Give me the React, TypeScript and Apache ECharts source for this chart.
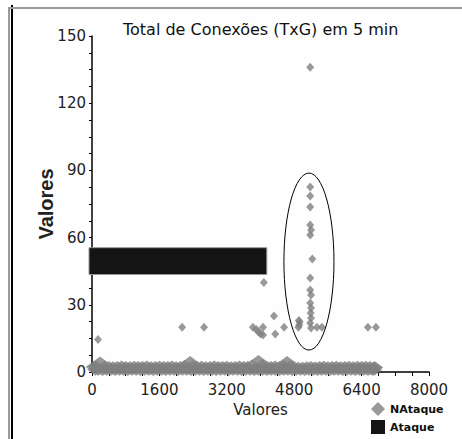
import React, { useEffect, useRef } from "react";
import * as echarts from "echarts";

const xTicks = [0, 1600, 3200, 4800, 6400, 8000];
const yTicks = [0, 30, 60, 90, 120, 150];

// NAtaque: dense band near zero (upper row and lower row of the band)
const nAtaqueBandTop: [number, number][] = [
  [40, 2.2], [100, 2.6], [190, 4.2], [300, 2.3], [400, 2.2], [500, 2.1], [600, 2.2], [700, 2.4],
  [800, 2.2], [900, 2.1], [1000, 2.3], [1100, 2.2], [1200, 2.2], [1300, 2.5], [1400, 2.1],
  [1500, 2.2], [1600, 2.3], [1700, 2.2], [1800, 2.2], [1900, 2.4], [2000, 2.1], [2100, 2.2],
  [2200, 2.7], [2330, 4.5], [2400, 2.7], [2500, 2.2], [2600, 2.3], [2700, 2.1], [2800, 2.2],
  [2900, 2.4], [3000, 2.2], [3100, 2.2], [3200, 2.3], [3300, 2.1], [3400, 2.2], [3500, 2.4],
  [3600, 2.2], [3700, 2.3], [3800, 2.9], [3950, 4.9], [4050, 3.1], [4150, 2.3], [4250, 2.2],
  [4350, 2.4], [4450, 2.2], [4550, 2.8], [4630, 4.5], [4720, 2.6], [4800, 2.1], [4900, 1.9],
  [5000, 1.9], [5100, 2.1], [5200, 2.2], [5300, 2.0], [5400, 2.2], [5500, 2.3], [5600, 2.1],
  [5700, 2.2], [5800, 2.3], [5900, 2.1], [6000, 2.2], [6100, 2.3], [6200, 2.1], [6300, 2.3],
  [6400, 2.2], [6500, 2.3], [6600, 2.2], [6700, 2.1], [6720, 2.0],
];
const nAtaqueBandBottom: [number, number][] = [
  [80, 1.0], [150, 1.0], [250, 0.9], [350, 1.0], [450, 1.0], [550, 0.9], [650, 1.0], [750, 1.0],
  [850, 0.9], [950, 1.0], [1050, 1.0], [1150, 0.9], [1250, 1.0], [1350, 1.0], [1450, 0.9],
  [1550, 1.0], [1650, 1.0], [1750, 0.9], [1850, 1.0], [1950, 1.0], [2050, 0.9], [2150, 1.0],
  [2250, 1.0], [2350, 0.9], [2450, 1.0], [2550, 1.0], [2650, 0.9], [2750, 1.0], [2850, 1.0],
  [2950, 0.9], [3050, 1.0], [3150, 1.0], [3250, 0.9], [3350, 1.0], [3450, 1.0], [3550, 0.9],
  [3650, 1.0], [3750, 1.0], [3850, 0.9], [3950, 1.0], [4050, 1.0], [4150, 0.9], [4250, 1.0],
  [4350, 1.0], [4450, 0.9], [4550, 1.0], [4650, 1.0], [4750, 0.9], [4850, 1.0], [4950, 1.0],
  [5050, 0.9], [5150, 1.0], [5250, 1.0], [5350, 0.9], [5450, 1.0], [5550, 1.0], [5650, 0.9],
  [5750, 1.0], [5850, 1.0], [5950, 0.9], [6050, 1.0], [6150, 1.0], [6250, 0.9], [6350, 1.0],
  [6450, 1.0], [6550, 0.9], [6650, 1.0], [6700, 1.0],
];
// NAtaque: scattered points above the band
const nAtaqueOutliers: [number, number][] = [
  [143, 14.5], [2140, 20], [2660, 20], [3820, 20], [3900, 19], [3950, 18], [4000, 17],
  [4060, 16.5], [4060, 20], [4080, 40], [4320, 25], [4350, 17], [4560, 20], [4900, 20],
  [4920, 21], [4930, 22.3], [4910, 23], [5180, 136], [5180, 82.6], [5180, 78.6], [5180, 73.7],
  [5180, 65.6], [5200, 63.4], [5180, 61.2], [5230, 50.4], [5180, 42], [5180, 36.6],
  [5200, 34.4], [5180, 30.8], [5200, 28.6], [5190, 26.3], [5200, 24.1], [5180, 21.9],
  [5200, 19.6], [5340, 20], [5460, 20], [6550, 20], [6740, 20],
];
// Ataque: block [xStart, xEnd, yLow, yHigh]
const ataqueBlock: [number, number, number, number][] = [[0, 4150, 43.5, 55.5]];
// highlight ellipse [cx, cy, rx, ry] in data units
const highlightEllipse: [number, number, number, number][] = [[5150, 49.3, 594, 39.5]];

const FONT = "DejaVu Sans";
const GRAY = "#808080";

export default function App() {
  const ref = useRef<HTMLDivElement>(null);
  useEffect(() => {
    if (!ref.current) return;
    const chart = echarts.init(ref.current, null, { renderer: "svg" });
    chart.setOption({
      animation: false,
      backgroundColor: "#fefefe",
      title: {
        text: "Total de Conexões (TxG) em 5 min",
        left: 123,
        top: 21,
        padding: 0,
        textStyle: { fontFamily: FONT, fontSize: 16, fontWeight: "normal", color: "#111" },
      },
      legend: {
        orient: "vertical",
        left: 371,
        top: 402,
        padding: 0,
        itemWidth: 14,
        itemHeight: 14,
        itemGap: 4,
        data: [
          { name: "NAtaque", icon: "diamond" },
          { name: "Ataque", icon: "rect" },
        ],
        textStyle: { fontFamily: FONT, fontSize: 11, fontWeight: "bold", color: "#111" },
      },
      grid: { left: 92, top: 36, right: 33, bottom: 67 },
      xAxis: {
        type: "value",
        min: xTicks[0],
        max: xTicks[xTicks.length - 1],
        interval: xTicks[1] - xTicks[0],
        name: "Valores",
        nameLocation: "middle",
        nameGap: 30,
        nameMoveOverlap: false,
        nameTextStyle: { fontFamily: FONT, fontSize: 15, color: "#222" },
        axisLine: { lineStyle: { color: "#000", width: 1.5 } },
        axisTick: { show: true, length: 4, lineStyle: { color: "#000" } },
        minorTick: { show: true, splitNumber: 4, length: 4, lineStyle: { color: "#000" } },
        axisLabel: { fontFamily: FONT, fontSize: 15, color: "#222", margin: 10, formatter: (v: number) => String(v) },
        splitLine: { show: false },
      },
      yAxis: {
        type: "value",
        min: yTicks[0],
        max: yTicks[yTicks.length - 1],
        interval: yTicks[1] - yTicks[0],
        name: "Valores",
        nameLocation: "middle",
        nameGap: 36,
        nameMoveOverlap: false,
        nameTextStyle: { fontFamily: "Liberation Sans", fontSize: 20, fontWeight: "bold", color: "#222" },
        axisLine: { show: true, lineStyle: { color: "#000", width: 1.5 } },
        axisTick: { show: true, length: 3, lineStyle: { color: "#000" } },
        minorTick: { show: true, splitNumber: 4, length: 3, lineStyle: { color: "#000" } },
        axisLabel: { fontFamily: FONT, fontSize: 15, color: "#222", margin: 6, formatter: (v: number) => String(v) },
        splitLine: { show: false },
      },
      graphic: [
        { type: "line", shape: { x1: 9, y1: 7, x2: 9, y2: 439 }, style: { stroke: "#9a9a9a", lineWidth: 2 } },
        { type: "line", shape: { x1: 12, y1: 5, x2: 12, y2: 439 }, style: { stroke: "#000", lineWidth: 2 } },
        { type: "line", shape: { x1: 8, y1: 8, x2: 462, y2: 8 }, style: { stroke: "#9a9a9a", lineWidth: 2 } },
      ],
      series: [
        {
          type: "custom",
          name: "Ataque",
          itemStyle: { color: "#141414" },
          encode: { x: [0, 1], y: [2, 3] },
          renderItem: (_params: any, api: any) => {
            const p1 = api.coord([api.value(0), api.value(3)]);
            const p2 = api.coord([api.value(1), api.value(2)]);
            return {
              type: "rect",
              shape: { x: p1[0] - 3, y: p1[1], width: p2[0] - p1[0] + 3, height: p2[1] - p1[1] },
              style: { fill: "#141414", stroke: "#9a9a9a", lineWidth: 1 },
            };
          },
          data: ataqueBlock,
          z: 3,
        },
        {
          type: "scatter",
          name: "NAtaque",
          symbol: "diamond",
          symbolSize: [8, 9],
          itemStyle: { color: GRAY },
          data: nAtaqueOutliers,
          z: 4,
        },
        {
          type: "scatter",
          name: "NAtaque",
          symbol: "diamond",
          symbolSize: [16, 12],
          itemStyle: { color: GRAY },
          data: [...nAtaqueBandBottom, ...nAtaqueBandTop],
          z: 4,
        },
        {
          type: "custom",
          name: "ellipse",
          silent: true,
          encode: { x: 0, y: 1 },
          renderItem: (_params: any, api: any) => {
            const c = api.coord([api.value(0), api.value(1)]);
            const e = api.coord([api.value(0) + api.value(2), api.value(1) + api.value(3)]);
            return {
              type: "ellipse",
              shape: { cx: c[0], cy: c[1], rx: Math.abs(e[0] - c[0]), ry: Math.abs(c[1] - e[1]) },
              style: { fill: "none", stroke: "#000", lineWidth: 1 },
            };
          },
          data: highlightEllipse,
          z: 5,
        },
      ],
    });
    return () => chart.dispose();
  }, []);
  return (
    <div
      ref={ref}
      style={{ position: "fixed", left: 0, top: 0, width: 462, height: 439 }}
    />
  );
}
